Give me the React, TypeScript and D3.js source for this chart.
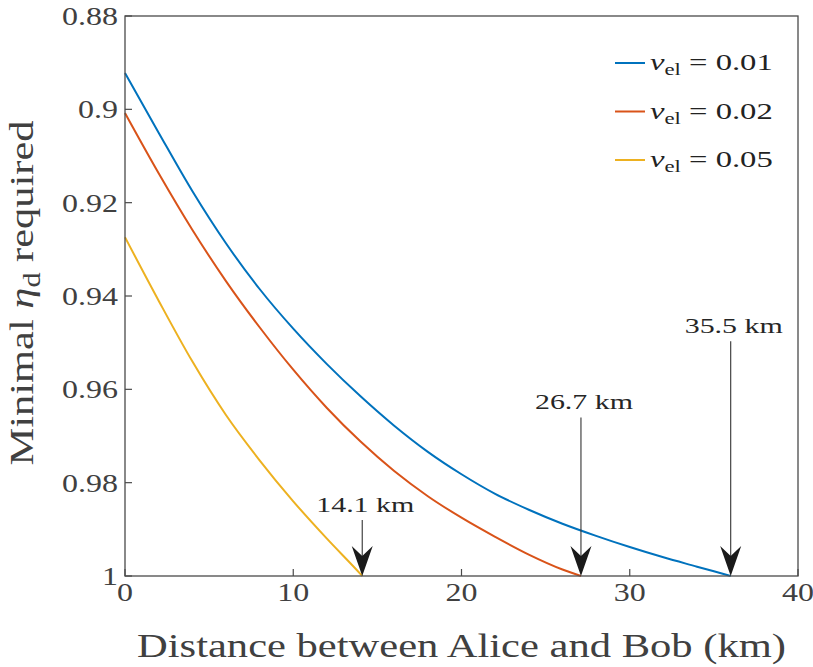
import React from 'react';
import * as d3 from 'd3';

// ---- data ----
const dist001 = [0, 2, 4, 6, 8, 10, 12, 14, 16, 18, 20, 22, 24, 26, 28, 30, 32, 34, 36];
const eta001 = [0.8922, 0.905, 0.9175, 0.9287, 0.9385, 0.947, 0.9546, 0.9615, 0.9678, 0.9734, 0.9782, 0.9824, 0.9858, 0.9888, 0.9914, 0.9938, 0.996, 0.998, 1.0];

const dist002 = [0, 2, 4, 6, 8, 10, 12, 14, 16, 18, 20, 22, 24, 26, 27.1];
const eta002 = [0.9008, 0.9137, 0.9258, 0.9368, 0.9467, 0.9558, 0.964, 0.9712, 0.9775, 0.9829, 0.9875, 0.9916, 0.9954, 0.9986, 1.0];

const dist005 = [0, 2, 4, 6, 8, 10, 12, 14, 14.1];
const eta005 = [0.9274, 0.941, 0.954, 0.9655, 0.9752, 0.984, 0.992, 0.9996, 1.0];

const legendValues = ['0.01', '0.02', '0.05'];
const seriesColors = ['#0072BD', '#D95319', '#EDB120'];

const xTicks = [0, 10, 20, 30, 40];
const xTickLabels = ['0', '10', '20', '30', '40'];
const yTicks = [0.88, 0.9, 0.92, 0.94, 0.96, 0.98, 1];
const yTickLabels = ['0.88', '0.9', '0.92', '0.94', '0.96', '0.98', '1'];

const annArrowX = [14.1, 27.1, 36.0];
const annTextY = [0.9863, 0.9643, 0.948];
const annLabels = ['14.1 km', '26.7 km', '35.5 km'];

// ---- layout ----
const W = 813;
const H = 667;
const L = 125;
const R = 798;
const T = 16;
const B = 576;

const AXIS = '#4a4a4a';
const LABEL = '#404040';
const FONT = '"Liberation Serif", "Times New Roman", serif';

export default function App() {
  const x = d3.scaleLinear().domain([0, 40]).range([L, R]);
  const y = d3.scaleLinear().domain([0.88, 1]).range([T, B]);

  const series = [
    { d: dist001, v: eta001 },
    { d: dist002, v: eta002 },
    { d: dist005, v: eta005 },
  ];

  const line = d3
    .line<[number, number]>()
    .x((p) => x(p[0]))
    .y((p) => y(p[1]))
    .curve(d3.curveMonotoneX);

  const tickSX = 1.28;
  const tickFS = 25;

  return (
    <svg
      width={W}
      height={H}
      style={{ position: 'absolute', left: 0, top: 0, background: '#fff' }}
      fontFamily={FONT}
    >
      <rect x={0} y={0} width={W} height={H} fill="#fff" />

      {/* curves */}
      {series.map((s, i) => (
        <path
          key={i}
          d={line(s.d.map((dd, j) => [dd, s.v[j]] as [number, number])) || ''}
          fill="none"
          stroke={seriesColors[i]}
          strokeWidth={2}
          strokeLinejoin="round"
        />
      ))}

      {/* axes box */}
      <rect x={L} y={T} width={R - L} height={B - T} fill="none" stroke={AXIS} strokeWidth={1.3} />

      {/* y ticks */}
      {yTicks.map((t, i) => (
        <g key={'y' + i}>
          <line x1={L} x2={L + 7} y1={y(t)} y2={y(t)} stroke={AXIS} strokeWidth={1.2} />
          <text
            transform={`translate(${L - 7},${y(t) + 9}) scale(${tickSX},1)`}
            textAnchor="end"
            fontSize={tickFS}
            fill={LABEL}
          >
            {yTickLabels[i]}
          </text>
        </g>
      ))}

      {/* x ticks */}
      {xTicks.map((t, i) => (
        <g key={'x' + i}>
          <line x1={x(t)} x2={x(t)} y1={B} y2={B - 7} stroke={AXIS} strokeWidth={1.2} />
          <text
            transform={`translate(${x(t)},${B + 25}) scale(${tickSX},1)`}
            textAnchor="middle"
            fontSize={tickFS}
            fill={LABEL}
          >
            {xTickLabels[i]}
          </text>
        </g>
      ))}

      {/* axis titles */}
      <text
        x={(L + R) / 2}
        y={657}
        textAnchor="middle"
        fontSize={34}
        fill={LABEL}
        textLength={649}
        lengthAdjust="spacingAndGlyphs"
      >
        Distance between Alice and Bob (km)
      </text>
      <text
        transform={`translate(33,${(T + B) / 2 - 3}) rotate(-90) scale(1,1.12)`}
        textAnchor="middle"
        fontSize={31}
        fill={LABEL}
        textLength={345}
        lengthAdjust="spacingAndGlyphs"
      >
        Minimal <tspan fontStyle="italic">η</tspan>
        <tspan fontSize={22} dy={6}>d</tspan>
        <tspan dy={-6}> required</tspan>
      </text>

      {/* legend */}
      {legendValues.map((v, i) => {
        const ly = 63 + i * 48.5;
        return (
          <g key={'lg' + i}>
            <line x1={615} x2={645} y1={ly} y2={ly} stroke={seriesColors[i]} strokeWidth={2} />
            <text
              transform={`translate(650,${ly + 7}) scale(1.42,1)`}
              fontSize={23}
              fill="#222"
            >
              <tspan fontStyle="italic">v</tspan>
              <tspan fontSize={16} dy={5}>el</tspan>
              <tspan dy={-5}> = {v}</tspan>
            </text>
          </g>
        );
      })}

      {/* annotations */}
      {annArrowX.map((ax, i) => {
        const tx = x(ax);
        const ty = y(1);
        const textY = y(annTextY[i]);
        const head = `M${tx},${ty} L${tx - 10.5},${ty - 30} L${tx},${ty - 20} L${tx + 10.5},${ty - 30} Z`;
        return (
          <g key={'ann' + i}>
            <line x1={tx} x2={tx} y1={textY + 8} y2={ty - 20} stroke="#333" strokeWidth={1.1} />
            <path d={head} fill="#1a1a1a" />
            <text
              transform={`translate(${tx + 3},${textY}) scale(1.36,1)`}
              textAnchor="middle"
              fontSize={22}
              fill="#262626"
            >
              {annLabels[i]}
            </text>
          </g>
        );
      })}
    </svg>
  );
}
